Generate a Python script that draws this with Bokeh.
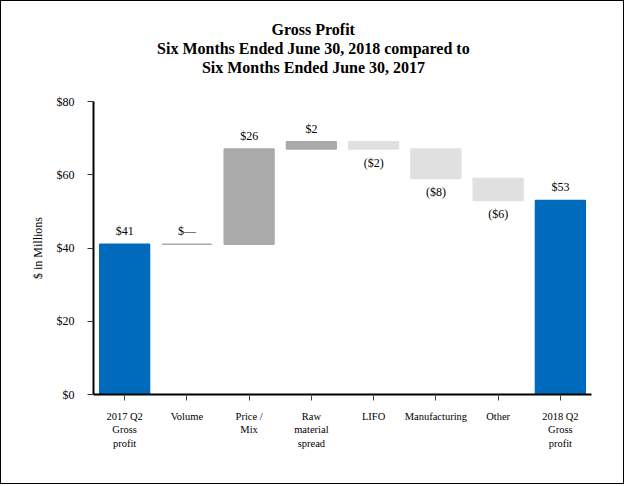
from bokeh.plotting import figure
from bokeh.models import (ColumnDataSource, FactorRange, Range1d, NumeralTickFormatter,
                          FixedTicker, Title)
from bokeh.embed import file_html
from bokeh.resources import INLINE

# ---- data ----
categories = ["2017 Q2\nGross\nprofit", "Volume", "Price /\nMix", "Raw\nmaterial\nspread",
              "LIFO", "Manufacturing", "Other", "2018 Q2\nGross\nprofit"]
start_value = 41
changes = [0, 26, 2, -2, -8, -6]
end_value = 53
y_ticks = [0, 20, 40, 60, 80]
title_lines = ["Gross Profit",
               "Six Months Ended June 30, 2018 compared to",
               "Six Months Ended June 30, 2017"]

BLUE = "#006BBD"
UP = "#AAAAAA"
DOWN = "#E0E0E0"
FONT = "Liberation Serif"
TITLE_PX = 16
W, H = 624, 484
FRAME_LEFT = 92

# approximate Times Bold advance widths (per 1000 em), used to centre title lines on the page
_WB = {" ": 250, ",": 250, "G": 778, "P": 611, "S": 556, "M": 944, "E": 667, "J": 500,
       "r": 444, "o": 500, "s": 389, "f": 333, "i": 278, "t": 333, "x": 500, "n": 556,
       "h": 556, "e": 444, "d": 556, "u": 556, "c": 444, "m": 833, "p": 556, "a": 500}


def bold_width(s, px):
    return sum(_WB.get(ch, 500) for ch in s) * px / 1000.0


def fmt(v):
    if v == 0:
        return "$\u2014"
    if v < 0:
        return "(${})".format(-v)
    return "${}".format(v)


bottoms, tops, colors, labels, deltas = [0], [start_value], [BLUE], [fmt(start_value)], [start_value]
level = start_value
for c in changes:
    bottoms.append(min(level, level + c))
    tops.append(max(level, level + c))
    colors.append(DOWN if c < 0 else UP)
    labels.append(fmt(c))
    deltas.append(c)
    level += c
bottoms.append(0)
tops.append(end_value)
colors.append(BLUE)
labels.append(fmt(end_value))
deltas.append(end_value)

src = ColumnDataSource(dict(cat=categories, bottom=bottoms, top=tops, color=colors))
pos = [i for i, d in enumerate(deltas) if d >= 0]
neg = [i for i, d in enumerate(deltas) if d < 0]
src_pos = ColumnDataSource(dict(cat=[categories[i] for i in pos], y=[tops[i] for i in pos],
                                text=[labels[i] for i in pos]))
src_neg = ColumnDataSource(dict(cat=[categories[i] for i in neg], y=[bottoms[i] for i in neg],
                                text=[labels[i] for i in neg]))

p = figure(x_range=FactorRange(factors=categories), y_range=Range1d(0, 80),
           width=W, height=H, output_backend="svg", toolbar_location=None,
           min_border_left=FRAME_LEFT, min_border_right=34, min_border_bottom=91, min_border_top=100)
p.styles = {"border": "1px solid black"}

# spacer between the title block and the frame
p.add_layout(Title(text=" ", text_font=FONT, text_font_size="21px", standoff=0), "above")
# title lines: later-added titles sit further from the frame; centred on the page
for line in reversed(title_lines):
    off = (W / 2.0 - FRAME_LEFT) - bold_width(line, TITLE_PX) / 2.0
    p.add_layout(Title(text=line, align="left", offset=off, text_font=FONT,
                       text_font_size="{}px".format(TITLE_PX), text_font_style="bold",
                       text_color="black", standoff=0), "above")

p.vbar(x="cat", bottom="bottom", top="top", width=0.8, fill_color="color",
       line_color="color", line_width=1.5, source=src)

p.text(x="cat", y="y", text="text", source=src_pos, text_align="center", text_baseline="bottom",
       y_offset=-6, text_font={"value": FONT}, text_font_size="12px", text_color="#000000")
p.text(x="cat", y="y", text="text", source=src_neg, text_align="center", text_baseline="top",
       y_offset=7, text_font={"value": FONT}, text_font_size="12px", text_color="#000000")

p.xgrid.visible = False
p.ygrid.visible = False
p.outline_line_color = None
p.background_fill_color = "white"
p.border_fill_color = "white"

ya = p.yaxis[0]
ya.ticker = FixedTicker(ticks=y_ticks)
ya.formatter = NumeralTickFormatter(format="$0")
ya.axis_label = "$ in Millions"
ya.axis_label_text_font = FONT
ya.axis_label_text_font_style = "normal"
ya.axis_label_text_font_size = "12px"
ya.axis_label_text_color = "black"
ya.axis_label_standoff = 9
ya.major_label_text_font = FONT
ya.major_label_text_font_size = "12px"
ya.major_label_text_color = "black"
ya.major_label_standoff = 13
ya.major_tick_in = 0
ya.major_tick_out = 6
ya.minor_tick_in = 0
ya.minor_tick_out = 0
ya.axis_line_width = 2
ya.axis_line_color = "black"
ya.major_tick_line_color = "#333333"

xa = p.xaxis[0]
xa.major_label_text_font = FONT
xa.major_label_text_font_size = "10.5px"
xa.major_label_text_color = "black"
xa.major_label_text_line_height = 1.25
xa.major_label_standoff = 10
xa.major_tick_in = 0
xa.major_tick_out = 6
xa.axis_line_width = 2
xa.axis_line_color = "black"
xa.major_tick_line_color = "#444444"
xa.major_label_orientation = "horizontal"

open("out.html", "w").write(file_html(p, INLINE))
